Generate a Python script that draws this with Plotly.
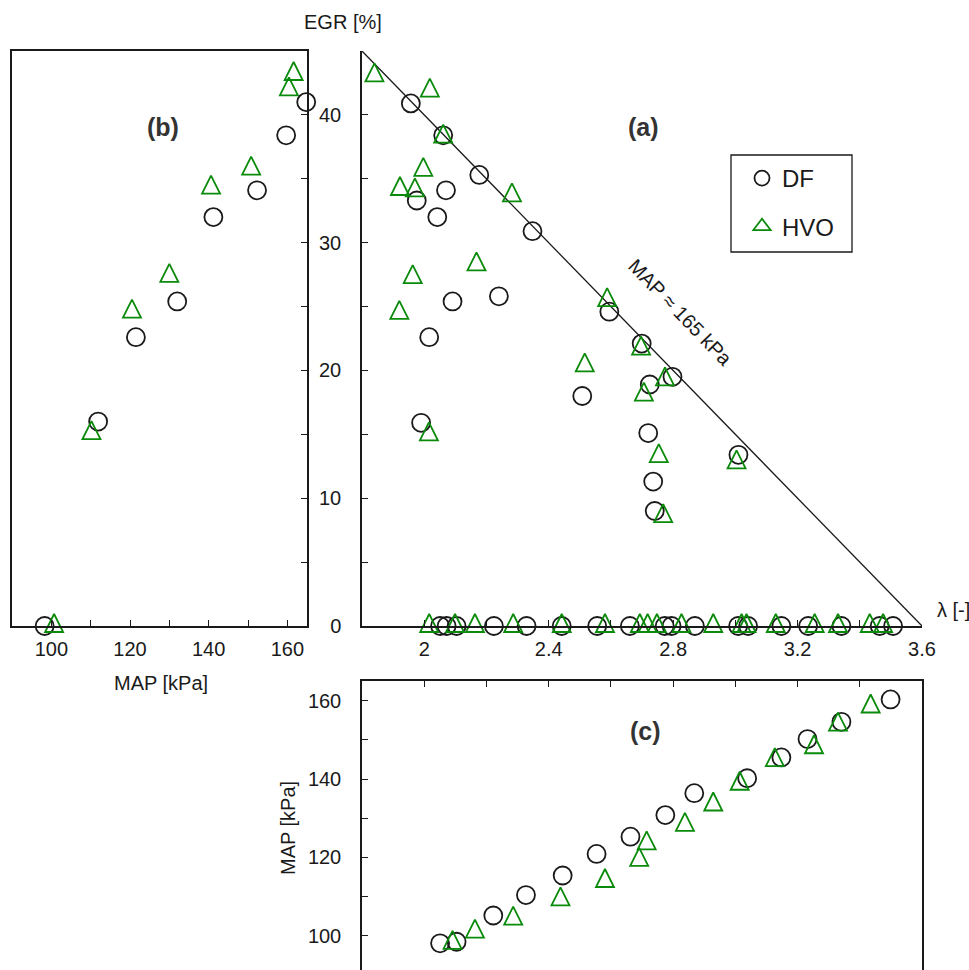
import plotly.graph_objects as go

W, H = 969, 970

# ---------------- (a) EGR vs lambda ----------------
df_a_lambda = [1.957, 2.061, 2.070, 1.976, 2.042, 2.177, 2.348, 2.091, 2.240, 2.595,
               2.016, 1.990, 2.508, 2.699, 2.725, 2.720, 2.736, 2.741, 2.798, 3.010,
               2.051, 2.072, 2.104, 2.224, 2.329, 2.442, 2.556, 2.661, 2.773, 2.795,
               2.870, 3.009, 3.041, 3.148, 3.234, 3.341, 3.464, 3.507]
df_a_egr = [40.9, 38.4, 34.1, 33.3, 32.0, 35.3, 30.9, 25.4, 25.8, 24.6,
            22.6, 15.9, 18.0, 22.1, 18.9, 15.1, 11.3, 9.0, 19.5, 13.4,
            0, 0, 0, 0, 0, 0, 0, 0, 0, 0,
            0, 0, 0, 0, 0, 0, 0, 0]

hvo_a_lambda = [1.840, 2.018, 2.061, 1.997, 1.922, 1.970, 2.282, 1.963, 2.168, 1.920,
                2.588, 2.015, 2.516, 2.697, 2.706, 2.754, 2.768, 2.774, 3.004,
                2.016, 2.099, 2.163, 2.286, 2.442, 2.581, 2.693, 2.718, 2.748, 2.827,
                2.929, 3.020, 3.036, 3.130, 3.255, 3.330, 3.432, 3.475]
hvo_a_egr = [43.1, 41.9, 38.3, 35.7, 34.2, 34.1, 33.7, 27.3, 28.3, 24.5,
             25.5, 15.0, 20.4, 21.7, 18.1, 13.3, 8.6, 19.3, 12.8,
             0, 0, 0, 0, 0, 0, 0, 0, 0, 0,
             0, 0, 0, 0, 0, 0, 0, 0]

# MAP ~ 165 kPa limit line
limit_lambda = [1.8, 3.6]
limit_egr = [45, 0]

# ---------------- (b) EGR vs MAP ----------------
df_b_map = [98.3, 111.9, 121.5, 132.0, 141.2, 152.3, 159.7, 164.8]
df_b_egr = [0, 16.0, 22.6, 25.4, 32.0, 34.1, 38.4, 41.0]
hvo_b_map = [100.7, 110.2, 120.5, 130.0, 140.6, 150.8, 160.4, 161.6]
hvo_b_egr = [0, 15.1, 24.6, 27.4, 34.3, 35.8, 42.0, 43.2]

# ---------------- (c) MAP vs lambda (no EGR) ----------------
df_c_lambda = [2.051, 2.104, 2.222, 2.327, 2.445, 2.554, 2.663, 2.775, 2.868, 3.038,
               3.148, 3.232, 3.341, 3.499]
df_c_map = [98.1, 98.5, 105.2, 110.4, 115.4, 120.9, 125.3, 130.8, 136.4, 140.2,
            145.5, 150.2, 154.6, 160.3]
hvo_c_lambda = [2.091, 2.163, 2.286, 2.438, 2.581, 2.691, 2.715, 2.838, 2.929, 3.014,
                3.127, 3.253, 3.330, 3.435]
hvo_c_map = [98.2, 101.1, 104.4, 109.3, 114.0, 119.4, 123.6, 128.3, 133.5, 138.8,
             144.8, 148.1, 153.9, 158.5]

FONT = "Liberation Sans, Arial, sans-serif"
INK = "#1a1a1a"
GREEN = "#0a8a0a"
MSIZE = 18


def px(x):
    return x / W


def py(y):
    return 1 - y / H


circle = dict(symbol="circle", size=MSIZE, color="rgba(0,0,0,0)",
              line=dict(color=INK, width=1.8))
# upward triangle centred on its centroid
triangle = dict(symbol="arrow-down", size=MSIZE, angle=180, standoff=2 * MSIZE / 3,
                color="rgba(0,0,0,0)", line=dict(color=GREEN, width=1.8))

fig = go.Figure()

# limit line in (a)
fig.add_trace(go.Scatter(x=limit_lambda, y=limit_egr, mode="lines",
                         line=dict(color=INK, width=1.3), xaxis="x2", yaxis="y2",
                         showlegend=False, hoverinfo="skip"))

panels = [
    ("x2", "y2", df_a_lambda, df_a_egr, hvo_a_lambda, hvo_a_egr),
    ("x", "y", df_b_map, df_b_egr, hvo_b_map, hvo_b_egr),
    ("x3", "y3", df_c_lambda, df_c_map, hvo_c_lambda, hvo_c_map),
]
for xa, ya, dx, dy, hx, hy in panels:
    fig.add_trace(go.Scatter(x=dx, y=dy, mode="markers", name="DF", marker=circle,
                             xaxis=xa, yaxis=ya, cliponaxis=False, showlegend=False))
    fig.add_trace(go.Scatter(x=hx, y=hy, mode="markers", name="HVO", marker=triangle,
                             xaxis=xa, yaxis=ya, cliponaxis=False, showlegend=False))

# legend entries
fig.add_trace(go.Scatter(x=[None], y=[None], mode="markers", name="DF",
                         marker=dict(symbol="circle-open", size=15, color=INK,
                                     line=dict(width=1.8)),
                         xaxis="x2", yaxis="y2", legendgroup="DF"))
fig.add_trace(go.Scatter(x=[None], y=[None], mode="markers", name="HVO",
                         marker=dict(symbol="triangle-up-open", size=15, color=GREEN,
                                     line=dict(width=1.8)),
                         xaxis="x2", yaxis="y2", legendgroup="HVO"))

axis_style = dict(showgrid=False, zeroline=False, showline=True, linecolor=INK,
                  linewidth=1.5, ticks="inside", ticklen=6, tickwidth=1.3,
                  tickcolor=INK, automargin=False,
                  tickfont=dict(family=FONT, size=20, color=INK))


def minor(dtick):
    return dict(ticks="inside", ticklen=6, tickwidth=1.3, tickcolor=INK, dtick=dtick,
                showgrid=False)


panel_top, panel_bottom = py(626), py(51)

fig.update_layout(
    width=W, height=H,
    margin=dict(l=0, r=0, t=0, b=0, pad=0, autoexpand=False),
    paper_bgcolor="white", plot_bgcolor="rgba(0,0,0,0)",
    font=dict(family=FONT, size=20, color=INK),
    # (b)
    xaxis=dict(axis_style, domain=[px(12), px(307)], range=[90, 165], anchor="y",
               tick0=100, dtick=20, minor=minor(10), mirror=True,
               ticklabelstandoff=4),
    yaxis=dict(axis_style, domain=[panel_top, panel_bottom], range=[0, 45], anchor="x",
               side="right", dtick=5, showticklabels=False, mirror=True),
    # (a)
    xaxis2=dict(axis_style, domain=[px(362), px(922)], range=[1.8, 3.6], anchor="y2",
                tick0=2.0, dtick=0.4, minor=minor(0.2), ticklabelstandoff=4),
    yaxis2=dict(axis_style, domain=[panel_top, panel_bottom], range=[0, 45],
                anchor="x2", tick0=0, dtick=10, minor=minor(5), ticklabelstandoff=15),
    # (c)
    xaxis3=dict(axis_style, domain=[px(362), px(922)], range=[1.8, 3.6], anchor="y3",
                side="top", tick0=1.8, dtick=0.2, showticklabels=False),
    yaxis3=dict(axis_style, domain=[0, py(681)], range=[91.3, 165], anchor="x3",
                tick0=100, dtick=20, minor=minor(10), mirror=True,
                ticklabelstandoff=15),
    legend=dict(x=px(742), y=py(156), xanchor="left", yanchor="top",
                bgcolor="rgba(0,0,0,0)", borderwidth=0, tracegroupgap=14,
                font=dict(family=FONT, size=24, color=INK)),
    showlegend=True,
)

# legend frame
fig.add_shape(type="rect", xref="paper", yref="paper", x0=px(731), x1=px(852),
              y0=py(252), y1=py(155), line=dict(color=INK, width=1.3))


def label(text, x, y, size=20, angle=0, xanchor="center", color=INK):
    fig.add_annotation(text=text, x=px(x), y=py(y), xref="paper", yref="paper",
                       showarrow=False, xanchor=xanchor, yanchor="middle",
                       textangle=angle, font=dict(family=FONT, size=size, color=color))


label("EGR [%]", 343, 22)
label("λ [-]", 935, 610, xanchor="left")
label("MAP [kPa]", 161, 683)
label("MAP [kPa]", 288, 828, angle=-90)
label("MAP ≈ 165 kPa", 680, 312, angle=46)
label("<b>(a)</b>", 643, 127, size=25, color="#333333")
label("<b>(b)</b>", 163, 127, size=25, color="#333333")
label("<b>(c)</b>", 645, 731, size=25, color="#333333")

fig.write_html("out.html")
